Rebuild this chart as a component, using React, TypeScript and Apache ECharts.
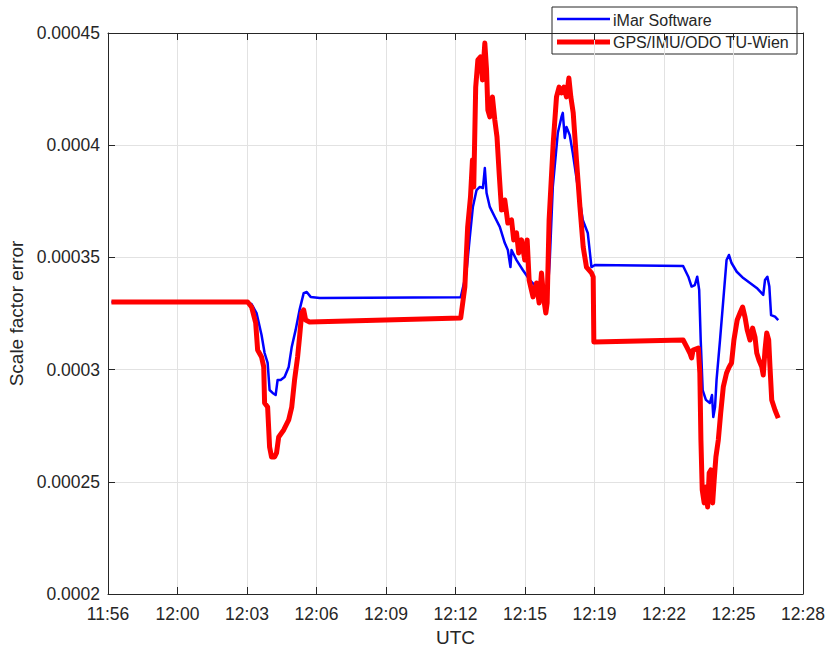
import React, { useEffect, useRef } from "react";
import * as echarts from "echarts";

const xTickLabels = ["11:56", "12:00", "12:03", "12:06", "12:09", "12:12", "12:15", "12:19", "12:22", "12:25", "12:28"];
const yTickLabels = ["0.0002", "0.00025", "0.0003", "0.00035", "0.0004", "0.00045"];
const seriesNames = ["iMar Software", "GPS/IMU/ODO TU-Wien"];

// minutes since 11:56 (axis tick spacing = 3.2 min)
const imarTime = [
  0.16, 6.43, 6.61, 6.84, 7.07, 7.21, 7.35, 7.44, 7.58, 7.72, 7.81, 7.95, 8.13, 8.32, 8.46, 8.64, 8.82, 9.01, 9.15, 9.33, 9.75,
  16.24, 16.5, 16.66, 16.8, 16.97, 17.12, 17.26, 17.3, 17.35, 17.43, 17.58, 17.81, 18.04, 18.27, 18.41, 18.53, 18.58, 18.81,
  19.1, 19.42, 19.73, 20.02, 20.25, 20.34, 20.48, 20.71, 20.88, 20.94, 21.03, 21.11, 21.26, 21.4, 21.63, 21.86, 22.09, 22.26,
  22.42, 26.48, 26.72, 26.87, 27.02, 27.13, 27.22, 27.29, 27.38, 27.53, 27.71, 27.81, 27.87, 27.95, 28.02, 28.18, 28.33, 28.48,
  28.59, 28.71, 28.95, 29.25, 29.56, 29.87, 30.17, 30.25, 30.36, 30.45, 30.53, 30.71, 30.86,
];
const imarValue = [
  3.301e-4, 3.301e-4, 3.292e-4, 3.252e-4, 3.154e-4, 3.074e-4, 3.03e-4, 2.909e-4, 2.896e-4, 2.887e-4, 2.954e-4, 2.954e-4, 2.967e-4,
  3.012e-4, 3.101e-4, 3.177e-4, 3.266e-4, 3.341e-4, 3.346e-4, 3.324e-4, 3.319e-4,
  3.322e-4, 3.431e-4, 3.591e-4, 3.725e-4, 3.8e-4, 3.814e-4, 3.809e-4, 3.845e-4, 3.898e-4, 3.787e-4, 3.725e-4, 3.68e-4, 3.636e-4,
  3.564e-4, 3.533e-4, 3.457e-4, 3.533e-4, 3.488e-4, 3.444e-4, 3.399e-4, 3.368e-4, 3.341e-4, 3.355e-4, 3.488e-4, 3.814e-4,
  4.054e-4, 4.126e-4, 4.144e-4, 4.032e-4, 4.081e-4, 4.045e-4, 3.965e-4, 3.814e-4, 3.667e-4, 3.609e-4, 3.457e-4,
  3.466e-4, 3.462e-4, 3.414e-4, 3.37e-4, 3.377e-4, 3.414e-4, 3.355e-4, 3.132e-4, 2.909e-4, 2.865e-4, 2.851e-4, 2.887e-4,
  2.789e-4, 2.833e-4, 2.954e-4, 3.132e-4, 3.31e-4, 3.488e-4, 3.511e-4, 3.475e-4, 3.436e-4, 3.408e-4, 3.386e-4, 3.364e-4,
  3.333e-4, 3.399e-4, 3.414e-4, 3.37e-4, 3.243e-4, 3.236e-4, 3.221e-4,
];

const tuTime = [
  0.16, 6.43, 6.61, 6.8, 6.89, 7.07, 7.17, 7.21, 7.35, 7.44, 7.53, 7.67, 7.76, 7.86, 8.09, 8.32, 8.46, 8.59, 8.73, 8.82, 8.92,
  9.01, 9.1, 9.28, 16.24, 16.43, 16.56, 16.69, 16.78, 16.84, 16.93, 17.03, 17.15, 17.24, 17.35, 17.43, 17.49, 17.58, 17.7, 17.81,
  17.91, 18.01, 18.12, 18.27, 18.41, 18.58, 18.68, 18.81, 18.91, 19.04, 19.19, 19.3, 19.39, 19.57, 19.73, 19.85, 19.96, 20.07,
  20.16, 20.22, 20.31, 20.5, 20.65, 20.77, 20.88, 20.99, 21.11, 21.22, 21.31, 21.42, 21.57, 21.73, 21.88, 22.03, 22.26, 22.34,
  22.37, 26.48, 26.64, 26.79, 26.87, 26.94, 27.18, 27.25, 27.3, 27.36, 27.45, 27.53, 27.61, 27.68, 27.76, 27.84, 27.91, 27.99,
  28.1, 28.21, 28.33, 28.48, 28.6, 28.71, 28.82, 28.97, 29.1, 29.22, 29.33, 29.43, 29.56, 29.68, 29.79, 29.87, 29.97, 30.1,
  30.17, 30.25, 30.33, 30.42, 30.48, 30.56, 30.71, 30.86,
];
const tuValue = [
  3.301e-4, 3.301e-4, 3.279e-4, 3.208e-4, 3.087e-4, 3.056e-4, 3.012e-4, 2.851e-4, 2.833e-4, 2.655e-4, 2.611e-4, 2.611e-4,
  2.629e-4, 2.7e-4, 2.731e-4, 2.776e-4, 2.833e-4, 2.954e-4, 3.056e-4, 3.145e-4, 3.252e-4, 3.266e-4, 3.221e-4, 3.212e-4,
  3.23e-4, 3.368e-4, 3.636e-4, 3.769e-4, 3.934e-4, 3.814e-4, 4.259e-4, 4.38e-4, 4.393e-4, 4.291e-4, 4.455e-4, 4.335e-4,
  4.157e-4, 4.126e-4, 4.215e-4, 4.112e-4, 4.037e-4, 3.876e-4, 3.711e-4, 3.756e-4, 3.653e-4, 3.667e-4, 3.578e-4, 3.609e-4,
  3.52e-4, 3.578e-4, 3.488e-4, 3.578e-4, 3.399e-4, 3.324e-4, 3.386e-4, 3.297e-4, 3.431e-4, 3.31e-4, 3.252e-4, 3.297e-4,
  3.667e-4, 4.01e-4, 4.215e-4, 4.259e-4, 4.233e-4, 4.259e-4, 4.215e-4, 4.299e-4, 4.215e-4, 4.144e-4, 3.934e-4, 3.725e-4,
  3.546e-4, 3.457e-4, 3.431e-4, 3.413e-4, 3.123e-4, 3.132e-4, 3.102e-4, 3.074e-4, 3.052e-4, 3.087e-4, 3.096e-4, 2.985e-4,
  2.686e-4, 2.464e-4, 2.406e-4, 2.477e-4, 2.388e-4, 2.539e-4, 2.553e-4, 2.406e-4, 2.508e-4, 2.611e-4, 2.686e-4, 2.807e-4,
  2.923e-4, 2.985e-4, 3.012e-4, 3.03e-4, 3.132e-4, 3.221e-4, 3.252e-4, 3.279e-4, 3.234e-4, 3.177e-4, 3.132e-4, 3.185e-4,
  3.145e-4, 3.074e-4, 3.043e-4, 3.012e-4, 2.976e-4, 3.087e-4, 3.163e-4, 3.132e-4, 3.012e-4, 2.865e-4, 2.82e-4, 2.784e-4,
];

const FONT = "Arial, 'Liberation Sans', Helvetica, sans-serif";
const AX = "#262626";

export default function App() {
  const ref = useRef<HTMLDivElement>(null);
  useEffect(() => {
    if (!ref.current) return;
    const chart = echarts.init(ref.current, undefined, { renderer: "svg" });
    const xMin = 0, xMax = 32, xInt = 3.2;
    const yMin = 0.0002, yMax = 0.00045, yInt = 0.00005;
    const common = {
      axisLine: { show: true, onZero: false, lineStyle: { color: AX, width: 1 } },
      axisTick: { show: true, inside: true, length: 7, lineStyle: { color: AX, width: 1 } },
    };
    chart.setOption({
      animation: false,
      backgroundColor: "#ffffff",
      grid: { left: 108, right: 24, top: 33, bottom: 56, containLabel: false, outerBoundsMode: "none" },
      xAxis: [
        {
          type: "value", min: xMin, max: xMax, interval: xInt, position: "bottom", ...common,
          axisLabel: {
            formatter: (v: number) => xTickLabels[Math.round(v / xInt)] ?? "",
            color: AX, fontSize: 17.5, fontFamily: FONT, margin: 11,
          },
          splitLine: { show: true, lineStyle: { color: "#e2e2e2", width: 1 } },
          name: "UTC", nameLocation: "middle", nameGap: 34,
          nameTextStyle: { color: AX, fontSize: 19, fontFamily: FONT, lineHeight: 19 },
        },
        {
          type: "value", min: xMin, max: xMax, interval: xInt, position: "top", ...common,
          axisLabel: { show: false }, splitLine: { show: false },
        },
      ],
      yAxis: [
        {
          type: "value", min: yMin, max: yMax, interval: yInt, position: "left", ...common,
          axisLabel: {
            formatter: (v: number) => yTickLabels[Math.round((v - yMin) / yInt)] ?? "",
            color: AX, fontSize: 17.5, fontFamily: FONT, margin: 8,
          },
          splitLine: { show: true, lineStyle: { color: "#e2e2e2", width: 1 } },
          name: "Scale factor error", nameLocation: "middle", nameGap: 80, nameRotate: 90,
          nameTextStyle: { color: AX, fontSize: 19, fontFamily: FONT },
        },
        {
          type: "value", min: yMin, max: yMax, interval: yInt, position: "right", ...common,
          axisLabel: { show: false }, splitLine: { show: false },
        },
      ],
      series: [
        {
          name: seriesNames[0], type: "line", showSymbol: false, symbol: "none",
          data: imarTime.map((t, i) => [t, imarValue[i]]),
          lineStyle: { color: "#0000ff", width: 2.5, join: "round" }, z: 3,
        },
        {
          name: seriesNames[1], type: "line", showSymbol: false, symbol: "none",
          data: tuTime.map((t, i) => [t, tuValue[i]]),
          lineStyle: { color: "#ff0000", width: 5, join: "round" }, z: 4,
        },
      ],
      graphic: [
        {
          type: "group", z: 100,
          children: [
            { type: "rect", shape: { x: 552, y: 7, width: 245, height: 47 }, style: { fill: "#ffffff", stroke: AX, lineWidth: 1 } },
            { type: "line", shape: { x1: 557, y1: 19, x2: 610, y2: 19 }, style: { stroke: "#0000ff", lineWidth: 2.5 } },
            { type: "line", shape: { x1: 557, y1: 42, x2: 610, y2: 42 }, style: { stroke: "#ff0000", lineWidth: 5 } },
            { type: "text", x: 613, y: 20, style: { text: seriesNames[0], fill: AX, font: `16px ${FONT}`, verticalAlign: "middle", align: "left" } },
            { type: "text", x: 613, y: 42.5, style: { text: seriesNames[1], fill: AX, font: `16px ${FONT}`, verticalAlign: "middle", align: "left" } },
          ],
        },
      ],
    });
    return () => chart.dispose();
  }, []);
  return <div ref={ref} style={{ position: "absolute", left: 0, top: 0, width: 827, height: 650 }} />;
}
